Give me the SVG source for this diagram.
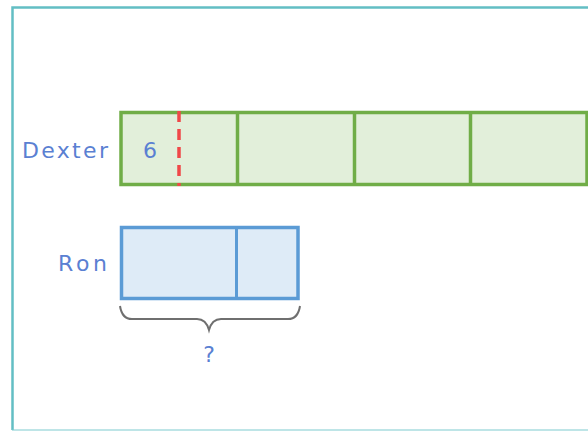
<svg xmlns="http://www.w3.org/2000/svg" width="588" height="431" viewBox="0 0 588 431">
  <style>
    .lbl { font-family: "DejaVu Sans", Verdana, sans-serif; font-size: 22px; fill: #5a80d2; }
    .green { fill: #e2efda; stroke: #70ad47; stroke-width: 3.5; }
    .green-div { stroke: #70ad47; stroke-width: 3.5; }
    .blue { fill: #deebf7; stroke: #5b9bd5; stroke-width: 3.5; }
    .blue-div { stroke: #5b9bd5; stroke-width: 3; }
  </style>
  <rect width="588" height="431" fill="#ffffff"/>
  <!-- outer frame -->
  <path d="M590 7.5 H12.5 V430" fill="none" stroke="#63bec4" stroke-width="2.5"/>
  <line x1="12" y1="430" x2="590" y2="430" stroke="#7fcbd0" stroke-width="1.2"/>

  <!-- Dexter bar -->
  <g id="dexter">
    <text class="lbl" x="22" y="158" textLength="86" lengthAdjust="spacing">Dexter</text>
    <rect class="green" x="121" y="112.5" width="466" height="72"/>
    <line class="green-div" x1="237.5" y1="112" x2="237.5" y2="185"/>
    <line class="green-div" x1="354.5" y1="112" x2="354.5" y2="185"/>
    <line class="green-div" x1="470.5" y1="112" x2="470.5" y2="185"/>
    <text class="lbl" x="143" y="158">6</text>
    <line x1="179" y1="111" x2="179" y2="186" stroke="#f04848" stroke-width="3.5" stroke-dasharray="11,7"/>
  </g>

  <!-- Ron bar -->
  <g id="ron">
    <text class="lbl" x="58" y="271" textLength="49" lengthAdjust="spacing">Ron</text>
    <rect class="blue" x="121.5" y="227.5" width="176.5" height="71"/>
    <line class="blue-div" x1="236.5" y1="227" x2="236.5" y2="299"/>
  </g>

  <!-- brace under Ron with the unknown -->
  <g id="brace">
    <path d="M120 306 Q122 319 132 319 H197 Q206 319 209 330 Q212 319 221 319 H288 Q298 319 300 306" fill="none" stroke="#6f6f6f" stroke-width="2"/>
    <text class="lbl" x="209" y="362" text-anchor="middle">?</text>
  </g>
</svg>
